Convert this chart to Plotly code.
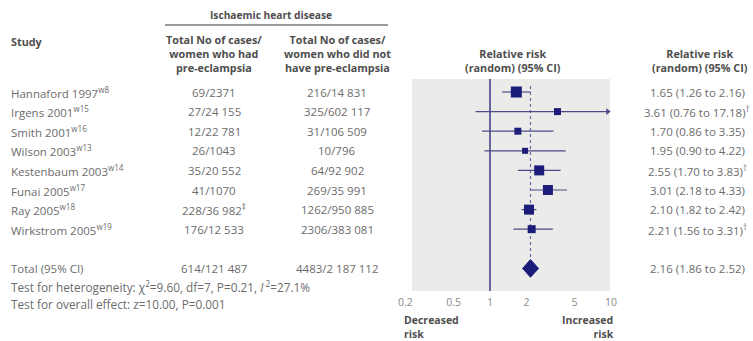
import plotly.graph_objects as go

# ---- data -------------------------------------------------------------
studies = ["Hannaford 1997", "Irgens 2001", "Smith 2001", "Wilson 2003",
           "Kestenbaum 2003", "Funai 2005", "Ray 2005", "Wirkstrom 2005"]
study_refs = ["w8", "w15", "w16", "w13", "w14", "w17", "w18", "w19"]
cases_pe = ["69/2371", "27/24 155", "12/22 781", "26/1043",
            "35/20 552", "41/1070", "228/36 982", "176/12 533"]
cases_pe_notes = ["", "", "", "", "", "", "‡", ""]
cases_no_pe = ["216/14 831", "325/602 117", "31/106 509", "10/796",
               "64/92 902", "269/35 991", "1262/950 885", "2306/383 081"]
rr = [1.65, 3.61, 1.70, 1.95, 2.55, 3.01, 2.10, 2.21]
rr_low = [1.26, 0.76, 0.86, 0.90, 1.70, 2.18, 1.82, 1.56]
rr_high = [2.16, 17.18, 3.35, 4.22, 3.83, 4.33, 2.42, 3.31]
rr_notes = ["", "†", "", "", "†", "", "", "†"]

total_label = "Total (95% CI)"
total_pe = "614/121 487"
total_no_pe = "4483/2 187 112"
total_rr, total_low, total_high = 2.16, 1.86, 2.52

heterogeneity = "Test for heterogeneity: χ<sup>2</sup>=9.60, df=7, P=0.21, <i>I</i><sup> 2</sup>=27.1%"
overall = "Test for overall effect: z=10.00, P=0.001"

tick_vals = [0.2, 0.5, 1, 2, 5, 10]
tick_text = ["0.2", "0.5", "1", "2", "5", "10"]

# ---- layout helpers ---------------------------------------------------
W, H = 753, 341
ROW0, ROW_STEP = 92, 19.6          # pixel centre of first row, row pitch
PLOT_BOTTOM = 291                  # bottom of the forest panel (px)
TOTAL_ROW = 9


def px(x):
    return x / W


def py(y):
    return 1 - y / H


def row_of(pixel):
    return (pixel - ROW0) / ROW_STEP


rows = list(range(len(studies)))
x_panel_max = 9.4                  # right edge of the shaded panel in RR units

NAVY = "#1c1c7a"
LINE = "#4c4c88"
TEXT = "#6c6c6c"
HEAD = "#4e4e4e"
FONT = "Open Sans"
BODY = 11.5
HEAD_SIZE = 10.8

fig = go.Figure()

# reference line at RR = 1
fig.add_trace(go.Scatter(x=[1, 1], y=[row_of(79), row_of(PLOT_BOTTOM)],
                         mode="lines", line=dict(color="#45458a", width=1.6),
                         hoverinfo="skip", showlegend=False))
# dashed line at the pooled estimate
fig.add_trace(go.Scatter(x=[total_rr, total_rr], y=[-0.3, TOTAL_ROW - 0.45],
                         mode="lines", line=dict(color="#6a6aa8", width=1.2, dash="dot"),
                         hoverinfo="skip", showlegend=False))

# confidence intervals
for i in rows:
    hi = min(rr_high[i], x_panel_max)
    fig.add_trace(go.Scatter(x=[rr_low[i], hi], y=[i, i], mode="lines",
                             line=dict(color=LINE, width=1.2),
                             hoverinfo="skip", showlegend=False))
    if rr_high[i] > x_panel_max:
        fig.add_trace(go.Scatter(x=[x_panel_max], y=[i], mode="markers",
                                 marker=dict(symbol="triangle-right", size=6, color=LINE,
                                             opacity=1),
                                 hoverinfo="skip", showlegend=False))

# study estimates (marker size reflects study weight)
marker_sizes = [11, 7, 7, 6, 10, 10, 10, 8]
fig.add_trace(go.Scatter(x=rr, y=rows, mode="markers",
                         marker=dict(symbol="square", size=marker_sizes, color=NAVY,
                                     opacity=1, line=dict(width=0)),
                         hoverinfo="skip", showlegend=False))

# pooled diamond
fig.add_trace(go.Scatter(x=[total_low, total_rr, total_high, total_rr, total_low],
                         y=[TOTAL_ROW, TOTAL_ROW - 0.45, TOTAL_ROW, TOTAL_ROW + 0.45, TOTAL_ROW],
                         mode="lines", fill="toself", fillcolor=NAVY,
                         line=dict(color=NAVY, width=1),
                         hoverinfo="skip", showlegend=False))

ann = []


def add_text(text, x, y, xanchor="left", yref="y", size=BODY, color=TEXT, bold=False,
             align=None):
    if bold:
        text = "<b>" + text + "</b>"
    ann.append(dict(text=text, x=x, y=y, xref="paper", yref=yref,
                    xanchor=xanchor, yanchor="middle", showarrow=False,
                    align=align or ("center" if xanchor == "center" else xanchor),
                    font=dict(family=FONT, size=size, color=color)))


# header
add_text("Ischaemic heart disease", px(271), py(15), "center", "paper", 10.2, HEAD, True)
add_text("Study", px(9), py(41), "left", "paper", HEAD_SIZE, HEAD, True)
add_text("Total No of cases/<br>women who had<br>pre-eclampsia", px(214), py(54),
         "center", "paper", HEAD_SIZE, HEAD, True)
add_text("Total No of cases/<br>women who did not<br>have pre-eclampsia", px(337), py(54),
         "center", "paper", HEAD_SIZE, HEAD, True)
add_text("Relative risk<br>(random) (95% CI)", px(513), py(60), "center", "paper", HEAD_SIZE, HEAD, True)
add_text("Relative risk<br>(random) (95% CI)", px(700), py(60), "center", "paper", HEAD_SIZE, HEAD, True)

# study rows
for i in rows:
    add_text(f"{studies[i]}<sup>{study_refs[i]}</sup>", px(9), i)
    note = f"<sup>{cases_pe_notes[i]}</sup>" if cases_pe_notes[i] else ""
    add_text(cases_pe[i] + note, px(214), i, "center")
    add_text(cases_no_pe[i], px(337), i, "center")
    note = f"<sup>{rr_notes[i]}</sup>" if rr_notes[i] else ""
    add_text(f"{rr[i]:.2f} ({rr_low[i]:.2f} to {rr_high[i]:.2f}){note}", px(697), i, "center")

# total row and tests
add_text(total_label, px(9), TOTAL_ROW)
add_text(total_pe, px(214), TOTAL_ROW, "center")
add_text(total_no_pe, px(337), TOTAL_ROW, "center")
add_text(f"{total_rr:.2f} ({total_low:.2f} to {total_high:.2f})", px(697), TOTAL_ROW, "center")
add_text(heterogeneity, px(9), py(286), "left", "paper", 11.8)
add_text(overall, px(9), py(304), "left", "paper", 11.8)

# axis captions
add_text("Decreased<br>risk", px(402), py(327), "left", "paper", 10.5, HEAD, True)
add_text("Increased<br>risk", px(616), py(327), "right", "paper", 10.5, HEAD, True)

# header underline and shaded forest panel
shapes = [
    dict(type="line", xref="paper", yref="paper", x0=px(165), x1=px(388),
         y0=py(25), y1=py(25), line=dict(color="#7a7a7a", width=1.5)),
    dict(type="rect", xref="paper", yref="paper", x0=px(412), x1=px(610),
         y0=py(PLOT_BOTTOM), y1=py(79), fillcolor="#ebebe9", line=dict(width=0),
         layer="below"),
]

# x axis: 1 sits at 490 px, 121 px per decade
x_left_px, x_right_px = 398, 622
ORIGIN, DECADE = 490, 121

fig.update_layout(
    width=W, height=H,
    margin=dict(l=0, r=0, t=0, b=0),
    paper_bgcolor="white", plot_bgcolor="rgba(0,0,0,0)",
    font=dict(family=FONT, size=10, color=TEXT),
    showlegend=False,
    annotations=ann, shapes=shapes,
    xaxis=dict(type="log", domain=[px(x_left_px), px(x_right_px)],
               range=[(x_left_px - ORIGIN) / DECADE, (x_right_px - ORIGIN) / DECADE],
               tickvals=tick_vals, ticktext=tick_text, ticks="",
               ticklabelstandoff=3,
               showgrid=False, zeroline=False, showline=False,
               tickfont=dict(family=FONT, size=10.5, color="#8a8a8a")),
    yaxis=dict(domain=[py(PLOT_BOTTOM), 1], range=[row_of(PLOT_BOTTOM), row_of(0)],
               visible=False, showgrid=False, zeroline=False),
)

fig.write_html("out.html")
